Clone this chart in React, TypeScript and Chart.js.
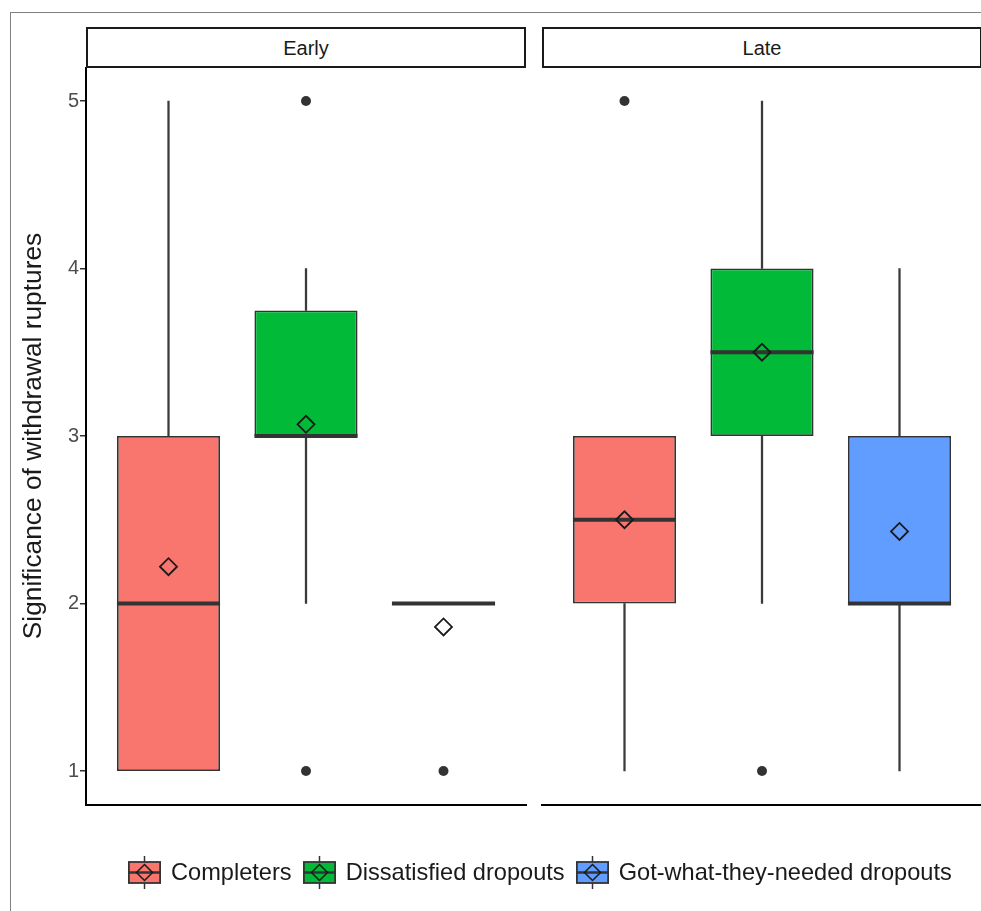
import React, { useEffect, useRef } from 'react';
import { Chart, registerables } from 'chart.js';

Chart.register(...registerables);

const FONT = "'Liberation Sans', Arial, Helvetica, sans-serif";

// ---- data ----
const facets = ['Early', 'Late'];
const groups = ['Completers', 'Dissatisfied dropouts', 'Got-what-they-needed dropouts'];
const groupColors = ['#F8766D', '#00BA38', '#619CFF'];
const yTicks = [1, 2, 3, 4, 5];
const yTitle = 'Significance of withdrawal ruptures';

// Early facet
const earlyMin = [1, 2, 2];
const earlyQ1 = [1, 3, 2];
const earlyMedian = [2, 3, 2];
const earlyQ3 = [3, 3.75, 2];
const earlyMax = [5, 4, 2];
const earlyMean = [2.22, 3.07, 1.86];
const earlyOutliers = [[], [5, 1], [1]];

// Late facet
const lateMin = [1, 2, 1];
const lateQ1 = [2, 3, 2];
const lateMedian = [2.5, 3.5, 2];
const lateQ3 = [3, 4, 3];
const lateMax = [3, 5, 4];
const lateMean = [2.5, 3.5, 2.43];
const lateOutliers = [[5], [1], []];

const medianPlugin = {
  id: 'boxMedians',
  afterDatasetDraw(chart: any, args: any) {
    const ds = chart.data.datasets[args.index];
    if (!ds.medians) return;
    const ctx = chart.ctx;
    const y = chart.scales.y;
    ctx.save();
    ctx.strokeStyle = '#333333';
    ctx.lineWidth = 4;
    ctx.lineCap = 'butt';
    args.meta.data.forEach((el: any, i: number) => {
      const { x, width } = el.getProps(['x', 'width'], true);
      const py = y.getPixelForValue(ds.medians[i]);
      ctx.beginPath();
      ctx.moveTo(x - width / 2, py);
      ctx.lineTo(x + width / 2, py);
      ctx.stroke();
    });
    ctx.restore();
  },
};

type FacetProps = {
  mins: number[];
  q1s: number[];
  medians: number[];
  q3s: number[];
  maxs: number[];
  means: number[];
  outliers: number[][];
  showY: boolean;
  left: number;
  width: number;
  padLeft: number;
  padRight: number;
};

function FacetChart(p: FacetProps) {
  const ref = useRef<HTMLCanvasElement | null>(null);
  useEffect(() => {
    if (!ref.current) return;
    const pos = groups.map((_, i) => i + 1);
    const outlierPts: { x: number; y: number }[] = [];
    p.outliers.forEach((arr, i) => arr.forEach((v) => outlierPts.push({ x: pos[i], y: v })));
    const whisker = (lo: number[], hi: number[], label: string) =>
      ({
        type: 'bar',
        label,
        data: pos
          .map((x, i) => ({ x, y: [lo[i], hi[i]] }))
          .filter((d) => d.y[1] > d.y[0]) as any,
        backgroundColor: '#3a3a3a',
        borderWidth: 0,
        barThickness: 1.6,
        grouped: false,
        order: 4,
      } as any);
    const chart = new Chart(ref.current, {
      type: 'bar',
      data: {
        datasets: [
          whisker(p.mins, p.q1s, 'lower whiskers'),
          whisker(p.q3s, p.maxs, 'upper whiskers'),
          {
            type: 'bar',
            label: 'boxes',
            data: pos.map((x, i) => ({ x, y: [p.q1s[i], p.q3s[i]] })) as any,
            medians: p.medians,
            backgroundColor: groupColors,
            borderColor: '#333333',
            borderWidth: 1.8,
            borderSkipped: false,
            categoryPercentage: 0.75,
            barPercentage: 1,
            grouped: false,
            order: 3,
          } as any,
          {
            type: 'scatter',
            label: 'outliers',
            data: outlierPts,
            pointRadius: 5,
            pointStyle: 'circle',
            pointBackgroundColor: '#333333',
            pointBorderWidth: 0,
            order: 2,
          } as any,
          {
            type: 'scatter',
            label: 'means',
            data: pos.map((x, i) => ({ x, y: p.means[i] })),
            pointRadius: 8.5,
            pointStyle: 'rectRot',
            pointBackgroundColor: 'rgba(0,0,0,0)',
            pointBorderColor: '#1a1a1a',
            pointBorderWidth: 1.8,
            order: 1,
          } as any,
        ],
      },
      options: {
        responsive: false,
        animation: false,
        events: [],
        layout: {
          autoPadding: false,
          padding: { left: p.padLeft, right: p.padRight, top: 67.5, bottom: 106.5 },
        },
        plugins: { legend: { display: false }, tooltip: { enabled: false } },
        scales: {
          x: {
            type: 'linear',
            min: 0.4,
            max: 3.6,
            offset: false,
            grid: { display: false },
            ticks: { display: false },
            border: { display: true, color: '#000000', width: 2 },
            afterBuildTicks: (s: any) => {
              s.ticks = pos.map((v) => ({ value: v }));
            },
            afterFit: (s: any) => {
              s.height = 0;
            },
          },
          y: {
            type: 'linear',
            min: 0.8,
            max: 5.2,
            display: p.showY,
            grid: {
              display: true,
              drawOnChartArea: false,
              drawTicks: true,
              tickLength: 6,
              color: '#333333',
              lineWidth: 1.5,
            },
            border: { display: true, color: '#000000', width: 2 },
            ticks: {
              padding: 1,
              color: '#4d4d4d',
              font: { family: FONT, size: 20 },
            },
            title: {
              display: true,
              text: yTitle,
              color: '#1a1a1a',
              font: { family: FONT, size: 26.3 },
              padding: { top: 18, bottom: 0 },
            },
            afterBuildTicks: (s: any) => {
              s.ticks = yTicks.map((v) => ({ value: v }));
            },
            afterFit: (s: any) => {
              s.width = p.showY ? 86 : 0;
            },
          },
        },
      } as any,
      plugins: [medianPlugin],
    });
    return () => chart.destroy();
  }, []);
  return (
    <canvas
      ref={ref}
      width={p.width}
      height={911}
      style={{ position: 'absolute', left: p.left, top: 0, width: p.width, height: 911 }}
    />
  );
}

function LegendKey({ color }: { color: string }) {
  return (
    <svg width={33} height={33} viewBox="0 0 33 33" style={{ display: 'block' }}>
      <line x1={16.5} y1={0} x2={16.5} y2={6} stroke="#333" strokeWidth={1.5} />
      <line x1={16.5} y1={27} x2={16.5} y2={33} stroke="#333" strokeWidth={1.5} />
      <rect x={0.9} y={6} width={31.2} height={21} fill={color} stroke="#333" strokeWidth={1.8} />
      <line x1={0.9} y1={16.5} x2={32.1} y2={16.5} stroke="#333" strokeWidth={2.5} />
      <polygon points="16.5,8.5 24.5,16.5 16.5,24.5 8.5,16.5" fill="none" stroke="#1a1a1a" strokeWidth={1.5} />
    </svg>
  );
}

export default function App() {
  const stripStyle: React.CSSProperties = {
    position: 'absolute',
    top: 27,
    height: 41,
    boxSizing: 'border-box',
    border: '2px solid #1a1a1a',
    display: 'flex',
    alignItems: 'center',
    justifyContent: 'center',
    paddingTop: 1,
    fontSize: 20,
    color: '#1a1a1a',
    background: '#fff',
  };
  return (
    <div
      style={{
        position: 'absolute',
        left: 0,
        top: 0,
        width: 981,
        height: 911,
        overflow: 'hidden',
        background: '#fff',
        fontFamily: FONT,
      }}
    >
      <div
        style={{
          position: 'absolute',
          left: 10,
          top: 12,
          width: 1000,
          height: 1000,
          borderLeft: '1.5px solid #808080',
          borderTop: '1.5px solid #808080',
        }}
      />
      <FacetChart
        mins={earlyMin}
        q1s={earlyQ1}
        medians={earlyMedian}
        q3s={earlyQ3}
        maxs={earlyMax}
        means={earlyMean}
        outliers={earlyOutliers}
        showY={true}
        left={0}
        width={530}
        padLeft={0}
        padRight={4}
      />
      <FacetChart
        mins={lateMin}
        q1s={lateQ1}
        medians={lateMedian}
        q3s={lateQ3}
        maxs={lateMax}
        means={lateMean}
        outliers={lateOutliers}
        showY={false}
        left={530}
        width={460}
        padLeft={12}
        padRight={8}
      />
      <div style={{ ...stripStyle, left: 86, width: 440 }}>{facets[0]}</div>
      <div style={{ ...stripStyle, left: 542, width: 440 }}>{facets[1]}</div>
      <div
        style={{
          position: 'absolute',
          left: 128,
          top: 856,
          height: 33,
          display: 'flex',
          alignItems: 'center',
          whiteSpace: 'nowrap',
          fontSize: 23.6,
          color: '#1a1a1a',
        }}
      >
        {groups.map((g, i) => (
          <React.Fragment key={g}>
            <LegendKey color={groupColors[i]} />
            <span style={{ marginLeft: 10, marginRight: 11 }}>{g}</span>
          </React.Fragment>
        ))}
      </div>
    </div>
  );
}
